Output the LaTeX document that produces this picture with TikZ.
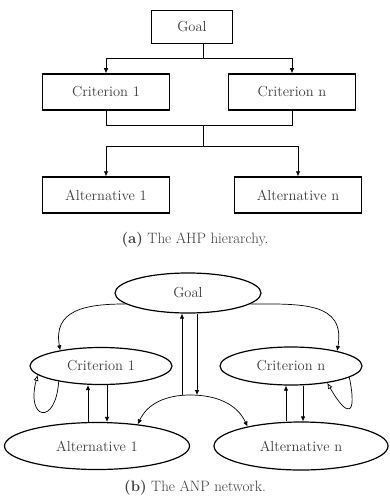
\documentclass[tikz,border=0pt]{standalone}
\usepackage{xcolor}
\usepackage{tikz}
\usetikzlibrary{positioning,shapes.geometric,arrows.meta}
\definecolor{txtgray}{RGB}{60,60,60}

\begin{document}
\begin{tikzpicture}[x=1pt, y=1pt,
  box/.style={draw, line width=1.5pt, minimum width=127pt, minimum height=36pt, inner sep=0pt, align=center, font=\fontsize{14.5}{17}\selectfont, text=txtgray},
  oval/.style={draw, ellipse, line width=1.2pt, inner sep=0pt, align=center, font=\fontsize{14.5}{17}\selectfont, text=txtgray},
  link/.style={line width=0.7pt},
  arr/.style={-{Latex[length=5pt,width=4.5pt]}, line width=0.7pt},
  openarr/.style={-{Latex[open,length=6pt,width=5pt]}, line width=0.7pt},
  caption/.style={font=\fontsize{15}{17}\selectfont, text=txtgray}
]
\useasboundingbox (0,0) rectangle (390,-497);

% AHP hierarchy
\node[box, minimum width=81pt, minimum height=33pt] (goal) at (192,-27) {Goal};
\node[box] (crit1) at (106,-92) {Criterion 1};
\node[box] (critn) at (292,-92) {Criterion n};
\node[box] (alt1) at (106,-195) {Alternative 1};
\node[box] (altn) at (298,-195) {Alternative n};

\coordinate (split) at (203,-58);
\coordinate (merge) at (203,-125);
\coordinate (fork) at (203,-146);

\draw[link] (goal.south -| split) -- (split);
\draw[arr] (split) -| (crit1);
\draw[arr] (split) -| (critn);
\draw[link] (crit1) |- (merge);
\draw[link] (critn) |- (merge);
\draw[link] (merge) -- (fork);
\draw[arr] (fork) -| (alt1);
\draw[arr] (fork) -| (altn);

\node[caption] (capa) at (195,-240) {\textbf{(a)} The AHP hierarchy.};

% ANP network
\node[oval, minimum width=146pt, minimum height=40pt] (goalb) at (188,-293) {Goal};
\node[oval, minimum width=142pt, minimum height=37pt] (crit1b) at (101,-366) {Criterion 1};
\node[oval, minimum width=142pt, minimum height=38pt] (critnb) at (291,-366) {Criterion n};
\node[oval, minimum width=185pt, minimum height=47pt] (alt1b) at (97,-446) {Alternative 1};
\node[oval, minimum width=174pt, minimum height=48pt] (altnb) at (301,-446) {Alternative n};

% goal to criteria
\draw[arr] (goalb.190) to[out=180, in=100, looseness=1.3] (crit1b.159);
\draw[arr] (goalb.350) to[out=0, in=80, looseness=1.3] (critnb.18);

% goal to alternatives
\coordinate (hub) at (190,-395);
\coordinate (upx) at (182,-395);
\coordinate (dnx) at (197,-395);
\draw[arr] (upx) -- (upx |- goalb.south);
\draw[arr] (dnx |- goalb.south) -- (dnx);
\draw[arr] (hub) to[out=180, in=65] (alt1b.28);
\draw[arr] (hub) to[out=0, in=115] (altnb.160);

% criteria and alternatives
\coordinate (c1up) at (88,0);
\coordinate (c1dn) at (107,0);
\coordinate (cnup) at (286,0);
\coordinate (cndn) at (303,0);
\draw[arr] (c1up |- alt1b.north) -- (c1up |- crit1b.south);
\draw[arr] (c1dn |- crit1b.south) -- (c1dn |- alt1b.north);
\draw[arr] (cnup |- altnb.north) -- (cnup |- critnb.south);
\draw[arr] (cndn |- critnb.south) -- (cndn |- altnb.north);

% inner dependence
\draw[openarr] (crit1b.200) .. controls +(-3,-45) and +(-12,-45) .. (crit1b.188);
\draw[openarr] (critnb.349) .. controls +(8,-40) and +(20,-35) .. (critnb.335);

\node[caption] (capb) at (195,-488) {\textbf{(b)} The ANP network.};

\end{tikzpicture}
\end{document}
